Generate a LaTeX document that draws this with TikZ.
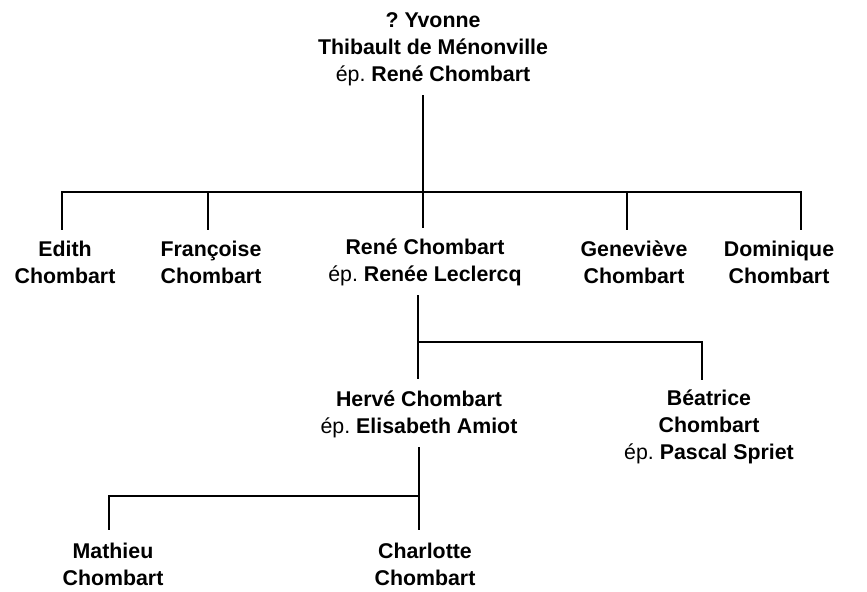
\documentclass[tikz,border=0pt]{standalone}
\usepackage{fontspec}
\setmainfont{Liberation Sans}
\frenchspacing

\begin{document}
\begin{tikzpicture}[x=0.75pt,y=-0.75pt,
  person/.style={align=center, inner sep=0pt, font=\fontsize{16}{20.25}\selectfont\bfseries},
  link/.style={line width=1.5pt}]
\useasboundingbox (0,0) rectangle (867,592);

% Root
\node[person] (yvonne) at (433,49) {? Yvonne\\Thibault de Ménonville\\\textmd{ép.} René Chombart};

% Children
\node[person] (edith) at (65,262) {Edith\\Chombart};
\node[person] (francoise) at (211,262) {Françoise\\Chombart};
\node[person] (rene) at (425,262) {René Chombart\\\textmd{ép.} Renée Leclercq};
\node[person] (genevieve) at (634,262) {Geneviève\\Chombart};
\node[person] (dominique) at (779,262) {Dominique\\Chombart};

% Grandchildren
\node[person] (herve) at (419,414) {Hervé Chombart\\\textmd{ép.} Elisabeth Amiot};
\node[person] (beatrice) at (709,427) {Béatrice\\Chombart\\\textmd{ép.} Pascal Spriet};

% Great-grandchildren
\node[person] (mathieu) at (113,564) {Mathieu\\Chombart};
\node[person] (charlotte) at (425,564) {Charlotte\\Chombart};

% Junctions
\coordinate (j1) at (423,192);
\coordinate (j2) at (418,342);
\coordinate (j3) at (419,496);
\coordinate (dEdith) at (62,192);
\coordinate (dFrancoise) at (208,192);
\coordinate (dGenevieve) at (627,192);
\coordinate (dDominique) at (801,192);
\coordinate (dBeatrice) at (702,342);
\coordinate (dMathieu) at (109,496);

% Lines
\draw[link, shorten <=7pt, shorten >=8pt] (yvonne.south -| j1) -- (j1 |- rene.north);
\draw[link, shorten >=8pt] (j1) -| (dEdith |- edith.north);
\draw[link, shorten >=8pt] (j1) -| (dDominique |- dominique.north);
\draw[link, shorten >=8pt] (dFrancoise) -- (dFrancoise |- francoise.north);
\draw[link, shorten >=8pt] (dGenevieve) -- (dGenevieve |- genevieve.north);

\draw[link, shorten <=7pt, shorten >=8.6pt] (j2 |- rene.south) -- (j2 |- herve.north);
\draw[link, shorten >=7.5pt] (j2) -| (dBeatrice |- beatrice.north);

\draw[link, shorten <=7pt, shorten >=9pt] (j3 |- herve.south) -- (j3 |- charlotte.north);
\draw[link, shorten >=9pt] (j3) -| (dMathieu |- mathieu.north);
\end{tikzpicture}
\end{document}
